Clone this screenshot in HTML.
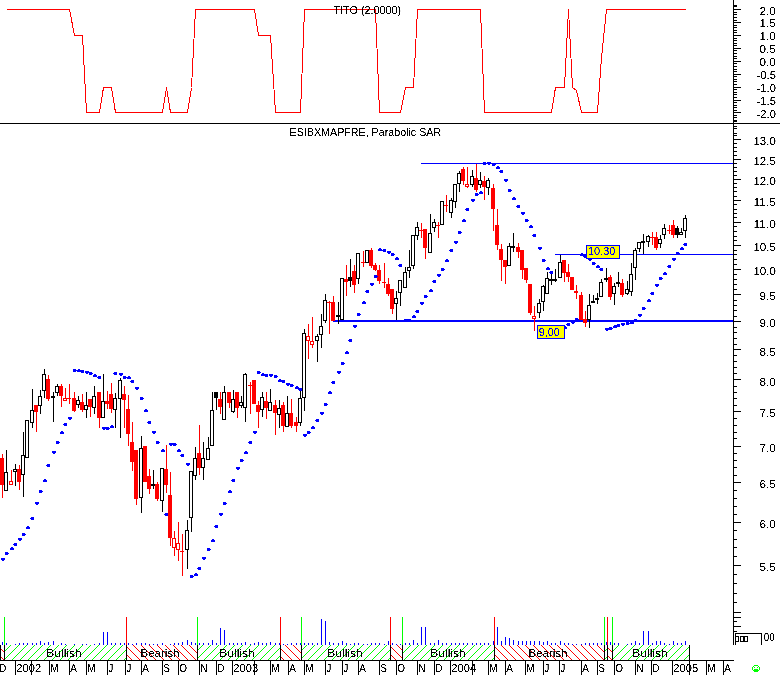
<!DOCTYPE html>
<html><head><meta charset="utf-8"><title>ESIBXMAPFRE, Parabolic SAR</title>
<style>
html,body{margin:0;padding:0;background:#fff;}
body{width:780px;height:675px;overflow:hidden;}
svg{display:block}
text{font-family:"Liberation Sans",Arial,sans-serif;fill:#000;}
.m{font-size:10px}
.b{font-size:11px}
.y{font-size:11px}
.t{font-size:10.5px}
.l{font-size:11px;fill:#0000ff}
</style></head><body>
<svg width="780" height="675" viewBox="0 0 780 675">
<defs>
<pattern id="pg" width="8" height="8" patternUnits="userSpaceOnUse"><path d="M-1 9 L9 -1 M-1 1 L1 -1 M7 9 L9 7" stroke="#00ff00" stroke-width="1" fill="none" shape-rendering="crispEdges"/></pattern>
<pattern id="pr" width="8" height="8" patternUnits="userSpaceOnUse"><path d="M-1 -1 L9 9 M-1 7 L1 9 M7 -1 L9 1" stroke="#ff0000" stroke-width="1" fill="none" shape-rendering="crispEdges"/></pattern>
<filter id="th" x="-5%" y="-20%" width="110%" height="140%" color-interpolation-filters="sRGB"><feComponentTransfer><feFuncA type="linear" slope="6" intercept="-2.2"/></feComponentTransfer></filter>
</defs>
<rect width="780" height="675" fill="#ffffff"/>
<g shape-rendering="crispEdges">
<polyline points="6.5,9.5 69.5,9.5 74.5,35.5 82.5,35.5 86.5,112.5 99.5,112.5 103.5,87.5 111.5,87.5 115.5,112.5 162.5,112.5 166.5,87.5 170.5,112.5 187.5,112.5 191.5,87.5 195.5,9.5 254.5,9.5 258.5,35.5 270.5,35.5 275.5,112.5 300.5,112.5 304.5,9.5 375.5,9.5 379.5,112.5 400.5,112.5 405.5,87.5 413.5,87.5 417.5,9.5 480.5,9.5 484.5,112.5 551.5,112.5 555.5,87.5 564.5,87.5 568.5,9.5 572.5,87.5 576.5,90.5 581.5,112.5 597.5,112.5 601.5,57.5 606.5,9.5 685.5,9.5" fill="none" stroke="#ff0000" stroke-width="1" shape-rendering="crispEdges"/>
<rect x="0" y="123" width="780" height="1" fill="#000000"/>
<rect x="733" y="0" width="1" height="645" fill="#000000"/>
<rect x="734" y="9" width="7" height="1" fill="#000000"/>
<rect x="734" y="12" width="3" height="1" fill="#000000"/>
<rect x="734" y="14" width="3" height="1" fill="#000000"/>
<rect x="734" y="17" width="3" height="1" fill="#000000"/>
<rect x="734" y="20" width="3" height="1" fill="#000000"/>
<rect x="734" y="22" width="7" height="1" fill="#000000"/>
<rect x="734" y="25" width="3" height="1" fill="#000000"/>
<rect x="734" y="27" width="3" height="1" fill="#000000"/>
<rect x="734" y="30" width="3" height="1" fill="#000000"/>
<rect x="734" y="32" width="3" height="1" fill="#000000"/>
<rect x="734" y="35" width="7" height="1" fill="#000000"/>
<rect x="734" y="38" width="3" height="1" fill="#000000"/>
<rect x="734" y="40" width="3" height="1" fill="#000000"/>
<rect x="734" y="43" width="3" height="1" fill="#000000"/>
<rect x="734" y="45" width="3" height="1" fill="#000000"/>
<rect x="734" y="48" width="7" height="1" fill="#000000"/>
<rect x="734" y="50" width="3" height="1" fill="#000000"/>
<rect x="734" y="53" width="3" height="1" fill="#000000"/>
<rect x="734" y="56" width="3" height="1" fill="#000000"/>
<rect x="734" y="58" width="3" height="1" fill="#000000"/>
<rect x="734" y="61" width="7" height="1" fill="#000000"/>
<rect x="734" y="63" width="3" height="1" fill="#000000"/>
<rect x="734" y="66" width="3" height="1" fill="#000000"/>
<rect x="734" y="69" width="3" height="1" fill="#000000"/>
<rect x="734" y="71" width="3" height="1" fill="#000000"/>
<rect x="734" y="74" width="7" height="1" fill="#000000"/>
<rect x="734" y="76" width="3" height="1" fill="#000000"/>
<rect x="734" y="79" width="3" height="1" fill="#000000"/>
<rect x="734" y="81" width="3" height="1" fill="#000000"/>
<rect x="734" y="84" width="3" height="1" fill="#000000"/>
<rect x="734" y="87" width="7" height="1" fill="#000000"/>
<rect x="734" y="89" width="3" height="1" fill="#000000"/>
<rect x="734" y="92" width="3" height="1" fill="#000000"/>
<rect x="734" y="94" width="3" height="1" fill="#000000"/>
<rect x="734" y="97" width="3" height="1" fill="#000000"/>
<rect x="734" y="100" width="7" height="1" fill="#000000"/>
<rect x="734" y="102" width="3" height="1" fill="#000000"/>
<rect x="734" y="105" width="3" height="1" fill="#000000"/>
<rect x="734" y="107" width="3" height="1" fill="#000000"/>
<rect x="734" y="110" width="3" height="1" fill="#000000"/>
<rect x="734" y="112" width="7" height="1" fill="#000000"/>
<rect x="734" y="115" width="3" height="1" fill="#000000"/>
<rect x="734" y="5" width="3" height="1" fill="#000000"/>
<rect x="734" y="6" width="3" height="1" fill="#000000"/>
<rect x="734" y="115" width="3" height="1" fill="#000000"/>
<rect x="734" y="117" width="3" height="1" fill="#000000"/>
<rect x="734" y="120" width="3" height="1" fill="#000000"/>
<rect x="734" y="121" width="3" height="1" fill="#000000"/>
<rect x="734" y="126" width="3" height="1" fill="#000000"/>
<rect x="734" y="128" width="3" height="1" fill="#000000"/>
<rect x="734" y="133" width="3" height="1" fill="#000000"/>
<rect x="734" y="135" width="3" height="1" fill="#000000"/>
<rect x="734" y="139" width="7" height="1" fill="#000000"/>
<rect x="734" y="143" width="3" height="1" fill="#000000"/>
<rect x="734" y="147" width="3" height="1" fill="#000000"/>
<rect x="734" y="151" width="3" height="1" fill="#000000"/>
<rect x="734" y="155" width="3" height="1" fill="#000000"/>
<rect x="734" y="159" width="7" height="1" fill="#000000"/>
<rect x="734" y="163" width="3" height="1" fill="#000000"/>
<rect x="734" y="167" width="3" height="1" fill="#000000"/>
<rect x="734" y="171" width="3" height="1" fill="#000000"/>
<rect x="734" y="175" width="3" height="1" fill="#000000"/>
<rect x="734" y="179" width="7" height="1" fill="#000000"/>
<rect x="734" y="183" width="3" height="1" fill="#000000"/>
<rect x="734" y="187" width="3" height="1" fill="#000000"/>
<rect x="734" y="191" width="3" height="1" fill="#000000"/>
<rect x="734" y="196" width="3" height="1" fill="#000000"/>
<rect x="734" y="200" width="7" height="1" fill="#000000"/>
<rect x="734" y="204" width="3" height="1" fill="#000000"/>
<rect x="734" y="209" width="3" height="1" fill="#000000"/>
<rect x="734" y="213" width="3" height="1" fill="#000000"/>
<rect x="734" y="217" width="3" height="1" fill="#000000"/>
<rect x="734" y="222" width="7" height="1" fill="#000000"/>
<rect x="734" y="226" width="3" height="1" fill="#000000"/>
<rect x="734" y="231" width="3" height="1" fill="#000000"/>
<rect x="734" y="236" width="3" height="1" fill="#000000"/>
<rect x="734" y="240" width="3" height="1" fill="#000000"/>
<rect x="734" y="245" width="7" height="1" fill="#000000"/>
<rect x="734" y="250" width="3" height="1" fill="#000000"/>
<rect x="734" y="254" width="3" height="1" fill="#000000"/>
<rect x="734" y="259" width="3" height="1" fill="#000000"/>
<rect x="734" y="264" width="3" height="1" fill="#000000"/>
<rect x="734" y="269" width="7" height="1" fill="#000000"/>
<rect x="734" y="274" width="3" height="1" fill="#000000"/>
<rect x="734" y="279" width="3" height="1" fill="#000000"/>
<rect x="734" y="284" width="3" height="1" fill="#000000"/>
<rect x="734" y="289" width="3" height="1" fill="#000000"/>
<rect x="734" y="294" width="7" height="1" fill="#000000"/>
<rect x="734" y="300" width="3" height="1" fill="#000000"/>
<rect x="734" y="305" width="3" height="1" fill="#000000"/>
<rect x="734" y="310" width="3" height="1" fill="#000000"/>
<rect x="734" y="316" width="3" height="1" fill="#000000"/>
<rect x="734" y="321" width="7" height="1" fill="#000000"/>
<rect x="734" y="327" width="3" height="1" fill="#000000"/>
<rect x="734" y="332" width="3" height="1" fill="#000000"/>
<rect x="734" y="338" width="3" height="1" fill="#000000"/>
<rect x="734" y="344" width="3" height="1" fill="#000000"/>
<rect x="734" y="349" width="7" height="1" fill="#000000"/>
<rect x="734" y="355" width="3" height="1" fill="#000000"/>
<rect x="734" y="361" width="3" height="1" fill="#000000"/>
<rect x="734" y="367" width="3" height="1" fill="#000000"/>
<rect x="734" y="373" width="3" height="1" fill="#000000"/>
<rect x="734" y="379" width="7" height="1" fill="#000000"/>
<rect x="734" y="386" width="3" height="1" fill="#000000"/>
<rect x="734" y="392" width="3" height="1" fill="#000000"/>
<rect x="734" y="398" width="3" height="1" fill="#000000"/>
<rect x="734" y="405" width="3" height="1" fill="#000000"/>
<rect x="734" y="411" width="7" height="1" fill="#000000"/>
<rect x="734" y="418" width="3" height="1" fill="#000000"/>
<rect x="734" y="425" width="3" height="1" fill="#000000"/>
<rect x="734" y="432" width="3" height="1" fill="#000000"/>
<rect x="734" y="438" width="3" height="1" fill="#000000"/>
<rect x="734" y="446" width="7" height="1" fill="#000000"/>
<rect x="734" y="453" width="3" height="1" fill="#000000"/>
<rect x="734" y="460" width="3" height="1" fill="#000000"/>
<rect x="734" y="467" width="3" height="1" fill="#000000"/>
<rect x="734" y="475" width="3" height="1" fill="#000000"/>
<rect x="734" y="482" width="7" height="1" fill="#000000"/>
<rect x="734" y="490" width="3" height="1" fill="#000000"/>
<rect x="734" y="498" width="3" height="1" fill="#000000"/>
<rect x="734" y="506" width="3" height="1" fill="#000000"/>
<rect x="734" y="514" width="3" height="1" fill="#000000"/>
<rect x="734" y="522" width="7" height="1" fill="#000000"/>
<rect x="734" y="530" width="3" height="1" fill="#000000"/>
<rect x="734" y="539" width="3" height="1" fill="#000000"/>
<rect x="734" y="547" width="3" height="1" fill="#000000"/>
<rect x="734" y="556" width="3" height="1" fill="#000000"/>
<rect x="734" y="565" width="7" height="1" fill="#000000"/>
<rect x="734" y="574" width="3" height="1" fill="#000000"/>
<rect x="734" y="583" width="3" height="1" fill="#000000"/>
<rect x="734" y="593" width="3" height="1" fill="#000000"/>
<rect x="734" y="602" width="3" height="1" fill="#000000"/>
<rect x="734" y="612" width="7" height="1" fill="#000000"/>
<rect x="734" y="617" width="7" height="1" fill="#000000"/>
<rect x="734" y="621" width="3" height="1" fill="#000000"/>
<rect x="734" y="626" width="7" height="1" fill="#000000"/>
<rect x="734" y="631" width="3" height="1" fill="#000000"/>
<rect x="735" y="633" width="27" height="1" fill="#000000"/>
<rect x="735" y="633" width="1" height="12" fill="#000000"/>
<rect x="761" y="633" width="1" height="12" fill="#000000"/>
<rect x="735.5" y="636.5" width="3" height="5" fill="none" stroke="#000000" stroke-width="1"/>
<rect x="740.5" y="636.5" width="3" height="5" fill="none" stroke="#000000" stroke-width="1"/>
<rect x="744.5" y="636.5" width="3" height="5" fill="none" stroke="#000000" stroke-width="1"/>
<rect x="421" y="163" width="312" height="1" fill="#0000ff"/>
<rect x="555" y="254" width="178" height="1" fill="#0000ff"/>
<rect x="333" y="320" width="400" height="2" fill="#0000ff"/>
<rect x="-2" y="454" width="1" height="44" fill="#ff0000"/>
<rect x="-4" y="458" width="4" height="27" fill="#ff0000"/>
<rect x="2" y="454" width="1" height="44" fill="#ff0000"/>
<rect x="0" y="458" width="4" height="27" fill="#ff0000"/>
<rect x="6" y="450" width="1" height="41" fill="#000000"/>
<rect x="4" y="472" width="4" height="19" fill="#000000"/>
<rect x="5" y="473" width="2" height="17" fill="#ffffff"/>
<rect x="11" y="470" width="1" height="15" fill="#ff0000"/>
<rect x="9" y="481" width="4" height="4" fill="#ff0000"/>
<rect x="10" y="482" width="2" height="2" fill="#ffffff"/>
<rect x="15" y="464" width="1" height="22" fill="#000000"/>
<rect x="13" y="469" width="4" height="3" fill="#000000"/>
<rect x="14" y="470" width="2" height="1" fill="#ffffff"/>
<rect x="19" y="465" width="1" height="25" fill="#ff0000"/>
<rect x="17" y="469" width="4" height="13" fill="#ff0000"/>
<rect x="23" y="432" width="1" height="65" fill="#000000"/>
<rect x="21" y="455" width="4" height="20" fill="#000000"/>
<rect x="22" y="456" width="2" height="18" fill="#ffffff"/>
<rect x="27" y="420" width="1" height="38" fill="#000000"/>
<rect x="25" y="420" width="4" height="38" fill="#000000"/>
<rect x="26" y="421" width="2" height="36" fill="#ffffff"/>
<rect x="32" y="389" width="1" height="39" fill="#000000"/>
<rect x="30" y="410" width="4" height="13" fill="#000000"/>
<rect x="31" y="411" width="2" height="11" fill="#ffffff"/>
<rect x="36" y="405" width="1" height="27" fill="#ff0000"/>
<rect x="34" y="405" width="4" height="7" fill="#ff0000"/>
<rect x="40" y="390" width="1" height="24" fill="#000000"/>
<rect x="38" y="396" width="4" height="10" fill="#000000"/>
<rect x="39" y="397" width="2" height="8" fill="#ffffff"/>
<rect x="44" y="369" width="1" height="29" fill="#000000"/>
<rect x="42" y="374" width="4" height="17" fill="#000000"/>
<rect x="43" y="375" width="2" height="15" fill="#ffffff"/>
<rect x="48" y="375" width="1" height="26" fill="#ff0000"/>
<rect x="46" y="379" width="4" height="20" fill="#ff0000"/>
<rect x="53" y="392" width="1" height="30" fill="#000000"/>
<rect x="51" y="396" width="4" height="2" fill="#000000"/>
<rect x="57" y="384" width="1" height="12" fill="#000000"/>
<rect x="55" y="386" width="4" height="7" fill="#000000"/>
<rect x="56" y="387" width="2" height="5" fill="#ffffff"/>
<rect x="61" y="384" width="1" height="23" fill="#ff0000"/>
<rect x="59" y="386" width="4" height="10" fill="#ff0000"/>
<rect x="65" y="388" width="1" height="13" fill="#ff0000"/>
<rect x="63" y="398" width="4" height="3" fill="#ff0000"/>
<rect x="64" y="399" width="2" height="1" fill="#ffffff"/>
<rect x="69" y="384" width="1" height="20" fill="#ff0000"/>
<rect x="67" y="398" width="4" height="1" fill="#ff0000"/>
<rect x="74" y="392" width="1" height="20" fill="#ff0000"/>
<rect x="72" y="398" width="4" height="13" fill="#ff0000"/>
<rect x="78" y="396" width="1" height="12" fill="#000000"/>
<rect x="76" y="400" width="4" height="5" fill="#000000"/>
<rect x="77" y="401" width="2" height="3" fill="#ffffff"/>
<rect x="82" y="394" width="1" height="18" fill="#ff0000"/>
<rect x="80" y="402" width="4" height="8" fill="#ff0000"/>
<rect x="86" y="392" width="1" height="26" fill="#000000"/>
<rect x="84" y="405" width="4" height="5" fill="#000000"/>
<rect x="85" y="406" width="2" height="3" fill="#ffffff"/>
<rect x="90" y="399" width="1" height="18" fill="#ff0000"/>
<rect x="88" y="399" width="4" height="8" fill="#ff0000"/>
<rect x="94" y="386" width="1" height="28" fill="#000000"/>
<rect x="92" y="396" width="4" height="12" fill="#000000"/>
<rect x="93" y="397" width="2" height="10" fill="#ffffff"/>
<rect x="99" y="392" width="1" height="36" fill="#ff0000"/>
<rect x="97" y="392" width="4" height="26" fill="#ff0000"/>
<rect x="103" y="374" width="1" height="44" fill="#000000"/>
<rect x="101" y="401" width="4" height="17" fill="#000000"/>
<rect x="102" y="402" width="2" height="15" fill="#ffffff"/>
<rect x="107" y="391" width="1" height="18" fill="#ff0000"/>
<rect x="105" y="401" width="4" height="3" fill="#ff0000"/>
<rect x="111" y="383" width="1" height="30" fill="#ff0000"/>
<rect x="109" y="394" width="4" height="15" fill="#ff0000"/>
<rect x="115" y="393" width="1" height="35" fill="#000000"/>
<rect x="113" y="398" width="4" height="12" fill="#000000"/>
<rect x="114" y="399" width="2" height="10" fill="#ffffff"/>
<rect x="120" y="378" width="1" height="60" fill="#000000"/>
<rect x="118" y="380" width="4" height="19" fill="#000000"/>
<rect x="119" y="381" width="2" height="17" fill="#ffffff"/>
<rect x="124" y="386" width="1" height="42" fill="#ff0000"/>
<rect x="122" y="394" width="4" height="6" fill="#ff0000"/>
<rect x="128" y="395" width="1" height="51" fill="#ff0000"/>
<rect x="126" y="409" width="4" height="25" fill="#ff0000"/>
<rect x="132" y="422" width="1" height="49" fill="#ff0000"/>
<rect x="130" y="442" width="4" height="20" fill="#ff0000"/>
<rect x="136" y="450" width="1" height="55" fill="#ff0000"/>
<rect x="134" y="450" width="4" height="49" fill="#ff0000"/>
<rect x="141" y="436" width="1" height="77" fill="#000000"/>
<rect x="139" y="448" width="4" height="50" fill="#000000"/>
<rect x="140" y="449" width="2" height="48" fill="#ffffff"/>
<rect x="145" y="446" width="1" height="36" fill="#ff0000"/>
<rect x="143" y="446" width="4" height="36" fill="#ff0000"/>
<rect x="149" y="469" width="1" height="25" fill="#ff0000"/>
<rect x="147" y="476" width="4" height="13" fill="#ff0000"/>
<rect x="153" y="470" width="1" height="19" fill="#000000"/>
<rect x="151" y="484" width="4" height="2" fill="#000000"/>
<rect x="157" y="482" width="1" height="19" fill="#ff0000"/>
<rect x="155" y="484" width="4" height="15" fill="#ff0000"/>
<rect x="162" y="468" width="1" height="44" fill="#000000"/>
<rect x="160" y="468" width="4" height="33" fill="#000000"/>
<rect x="161" y="469" width="2" height="31" fill="#ffffff"/>
<rect x="166" y="445" width="1" height="48" fill="#ff0000"/>
<rect x="164" y="469" width="4" height="16" fill="#ff0000"/>
<rect x="170" y="472" width="1" height="74" fill="#ff0000"/>
<rect x="168" y="495" width="4" height="43" fill="#ff0000"/>
<rect x="174" y="531" width="1" height="25" fill="#ff0000"/>
<rect x="172" y="538" width="4" height="10" fill="#ff0000"/>
<rect x="173" y="539" width="2" height="8" fill="#ffffff"/>
<rect x="178" y="522" width="1" height="39" fill="#ff0000"/>
<rect x="176" y="543" width="4" height="7" fill="#ff0000"/>
<rect x="177" y="544" width="2" height="5" fill="#ffffff"/>
<rect x="182" y="534" width="1" height="42" fill="#ff0000"/>
<rect x="180" y="551" width="4" height="1" fill="#ff0000"/>
<rect x="187" y="520" width="1" height="49" fill="#000000"/>
<rect x="185" y="530" width="4" height="20" fill="#000000"/>
<rect x="186" y="531" width="2" height="18" fill="#ffffff"/>
<rect x="191" y="471" width="1" height="61" fill="#000000"/>
<rect x="189" y="471" width="4" height="47" fill="#000000"/>
<rect x="190" y="472" width="2" height="45" fill="#ffffff"/>
<rect x="195" y="447" width="1" height="33" fill="#000000"/>
<rect x="193" y="458" width="4" height="18" fill="#000000"/>
<rect x="194" y="459" width="2" height="16" fill="#ffffff"/>
<rect x="199" y="425" width="1" height="50" fill="#ff0000"/>
<rect x="197" y="453" width="4" height="15" fill="#ff0000"/>
<rect x="203" y="442" width="1" height="38" fill="#000000"/>
<rect x="201" y="458" width="4" height="10" fill="#000000"/>
<rect x="202" y="459" width="2" height="8" fill="#ffffff"/>
<rect x="208" y="437" width="1" height="23" fill="#000000"/>
<rect x="206" y="448" width="4" height="12" fill="#000000"/>
<rect x="207" y="449" width="2" height="10" fill="#ffffff"/>
<rect x="212" y="392" width="1" height="54" fill="#000000"/>
<rect x="210" y="410" width="4" height="36" fill="#000000"/>
<rect x="211" y="411" width="2" height="34" fill="#ffffff"/>
<rect x="216" y="392" width="1" height="18" fill="#000000"/>
<rect x="214" y="392" width="4" height="6" fill="#000000"/>
<rect x="220" y="392" width="1" height="22" fill="#ff0000"/>
<rect x="218" y="399" width="4" height="8" fill="#ff0000"/>
<rect x="224" y="386" width="1" height="34" fill="#000000"/>
<rect x="222" y="392" width="4" height="28" fill="#000000"/>
<rect x="223" y="393" width="2" height="26" fill="#ffffff"/>
<rect x="229" y="392" width="1" height="16" fill="#ff0000"/>
<rect x="227" y="392" width="4" height="11" fill="#ff0000"/>
<rect x="233" y="390" width="1" height="23" fill="#000000"/>
<rect x="231" y="399" width="4" height="13" fill="#000000"/>
<rect x="232" y="400" width="2" height="11" fill="#ffffff"/>
<rect x="237" y="392" width="1" height="26" fill="#ff0000"/>
<rect x="235" y="392" width="4" height="16" fill="#ff0000"/>
<rect x="241" y="396" width="1" height="12" fill="#000000"/>
<rect x="239" y="402" width="4" height="4" fill="#000000"/>
<rect x="240" y="403" width="2" height="2" fill="#ffffff"/>
<rect x="245" y="373" width="1" height="49" fill="#000000"/>
<rect x="243" y="374" width="4" height="34" fill="#000000"/>
<rect x="244" y="375" width="2" height="32" fill="#ffffff"/>
<rect x="250" y="382" width="1" height="32" fill="#ff0000"/>
<rect x="248" y="385" width="4" height="1" fill="#ff0000"/>
<rect x="254" y="380" width="1" height="24" fill="#ff0000"/>
<rect x="252" y="380" width="4" height="24" fill="#ff0000"/>
<rect x="258" y="401" width="1" height="27" fill="#ff0000"/>
<rect x="256" y="405" width="4" height="7" fill="#ff0000"/>
<rect x="262" y="392" width="1" height="25" fill="#000000"/>
<rect x="260" y="397" width="4" height="13" fill="#000000"/>
<rect x="261" y="398" width="2" height="11" fill="#ffffff"/>
<rect x="266" y="392" width="1" height="27" fill="#ff0000"/>
<rect x="264" y="401" width="4" height="7" fill="#ff0000"/>
<rect x="270" y="389" width="1" height="22" fill="#000000"/>
<rect x="268" y="402" width="4" height="9" fill="#000000"/>
<rect x="269" y="403" width="2" height="7" fill="#ffffff"/>
<rect x="275" y="400" width="1" height="35" fill="#ff0000"/>
<rect x="273" y="405" width="4" height="8" fill="#ff0000"/>
<rect x="279" y="400" width="1" height="28" fill="#000000"/>
<rect x="277" y="408" width="4" height="7" fill="#000000"/>
<rect x="278" y="409" width="2" height="5" fill="#ffffff"/>
<rect x="283" y="402" width="1" height="30" fill="#ff0000"/>
<rect x="281" y="405" width="4" height="21" fill="#ff0000"/>
<rect x="287" y="396" width="1" height="31" fill="#000000"/>
<rect x="285" y="413" width="4" height="14" fill="#000000"/>
<rect x="286" y="414" width="2" height="12" fill="#ffffff"/>
<rect x="291" y="399" width="1" height="29" fill="#ff0000"/>
<rect x="289" y="413" width="4" height="13" fill="#ff0000"/>
<rect x="296" y="417" width="1" height="15" fill="#ff0000"/>
<rect x="294" y="422" width="4" height="4" fill="#ff0000"/>
<rect x="300" y="389" width="1" height="37" fill="#000000"/>
<rect x="298" y="398" width="4" height="25" fill="#000000"/>
<rect x="299" y="399" width="2" height="23" fill="#ffffff"/>
<rect x="304" y="329" width="1" height="82" fill="#000000"/>
<rect x="302" y="333" width="4" height="65" fill="#000000"/>
<rect x="303" y="334" width="2" height="63" fill="#ffffff"/>
<rect x="308" y="324" width="1" height="35" fill="#ff0000"/>
<rect x="306" y="336" width="4" height="5" fill="#ff0000"/>
<rect x="307" y="337" width="2" height="3" fill="#ffffff"/>
<rect x="312" y="317" width="1" height="31" fill="#ff0000"/>
<rect x="310" y="341" width="4" height="4" fill="#ff0000"/>
<rect x="311" y="342" width="2" height="2" fill="#ffffff"/>
<rect x="317" y="334" width="1" height="28" fill="#000000"/>
<rect x="315" y="336" width="4" height="5" fill="#000000"/>
<rect x="316" y="337" width="2" height="3" fill="#ffffff"/>
<rect x="321" y="314" width="1" height="34" fill="#000000"/>
<rect x="319" y="326" width="4" height="9" fill="#000000"/>
<rect x="320" y="327" width="2" height="7" fill="#ffffff"/>
<rect x="325" y="294" width="1" height="29" fill="#000000"/>
<rect x="323" y="300" width="4" height="21" fill="#000000"/>
<rect x="324" y="301" width="2" height="19" fill="#ffffff"/>
<rect x="329" y="301" width="1" height="33" fill="#ff0000"/>
<rect x="327" y="302" width="4" height="1" fill="#ff0000"/>
<rect x="333" y="296" width="1" height="25" fill="#ff0000"/>
<rect x="331" y="302" width="4" height="19" fill="#ff0000"/>
<rect x="338" y="302" width="1" height="22" fill="#000000"/>
<rect x="336" y="315" width="4" height="2" fill="#000000"/>
<rect x="342" y="278" width="1" height="42" fill="#000000"/>
<rect x="340" y="278" width="4" height="42" fill="#000000"/>
<rect x="341" y="279" width="2" height="40" fill="#ffffff"/>
<rect x="346" y="265" width="1" height="31" fill="#ff0000"/>
<rect x="344" y="279" width="4" height="3" fill="#ff0000"/>
<rect x="350" y="259" width="1" height="28" fill="#000000"/>
<rect x="348" y="277" width="4" height="4" fill="#000000"/>
<rect x="354" y="265" width="1" height="28" fill="#ff0000"/>
<rect x="352" y="271" width="4" height="14" fill="#ff0000"/>
<rect x="358" y="253" width="1" height="31" fill="#000000"/>
<rect x="356" y="253" width="4" height="26" fill="#000000"/>
<rect x="357" y="254" width="2" height="24" fill="#ffffff"/>
<rect x="363" y="251" width="1" height="16" fill="#ff0000"/>
<rect x="361" y="262" width="4" height="1" fill="#ff0000"/>
<rect x="367" y="250" width="1" height="13" fill="#000000"/>
<rect x="365" y="250" width="4" height="13" fill="#000000"/>
<rect x="366" y="251" width="2" height="11" fill="#ffffff"/>
<rect x="371" y="248" width="1" height="20" fill="#ff0000"/>
<rect x="369" y="250" width="4" height="16" fill="#ff0000"/>
<rect x="375" y="263" width="1" height="8" fill="#ff0000"/>
<rect x="373" y="265" width="4" height="5" fill="#ff0000"/>
<rect x="379" y="265" width="1" height="19" fill="#ff0000"/>
<rect x="377" y="270" width="4" height="11" fill="#ff0000"/>
<rect x="384" y="263" width="1" height="25" fill="#ff0000"/>
<rect x="382" y="282" width="4" height="1" fill="#ff0000"/>
<rect x="388" y="278" width="1" height="18" fill="#ff0000"/>
<rect x="386" y="284" width="4" height="10" fill="#ff0000"/>
<rect x="392" y="289" width="1" height="25" fill="#ff0000"/>
<rect x="390" y="289" width="4" height="20" fill="#ff0000"/>
<rect x="396" y="291" width="1" height="29" fill="#000000"/>
<rect x="394" y="298" width="4" height="6" fill="#000000"/>
<rect x="395" y="299" width="2" height="4" fill="#ffffff"/>
<rect x="400" y="280" width="1" height="26" fill="#000000"/>
<rect x="398" y="280" width="4" height="13" fill="#000000"/>
<rect x="399" y="281" width="2" height="11" fill="#ffffff"/>
<rect x="405" y="267" width="1" height="21" fill="#000000"/>
<rect x="403" y="272" width="4" height="16" fill="#000000"/>
<rect x="404" y="273" width="2" height="14" fill="#ffffff"/>
<rect x="409" y="250" width="1" height="28" fill="#000000"/>
<rect x="407" y="267" width="4" height="4" fill="#000000"/>
<rect x="408" y="268" width="2" height="2" fill="#ffffff"/>
<rect x="413" y="235" width="1" height="34" fill="#000000"/>
<rect x="411" y="235" width="4" height="31" fill="#000000"/>
<rect x="412" y="236" width="2" height="29" fill="#ffffff"/>
<rect x="417" y="222" width="1" height="18" fill="#000000"/>
<rect x="415" y="227" width="4" height="9" fill="#000000"/>
<rect x="416" y="228" width="2" height="7" fill="#ffffff"/>
<rect x="421" y="223" width="1" height="15" fill="#ff0000"/>
<rect x="419" y="230" width="4" height="1" fill="#ff0000"/>
<rect x="425" y="229" width="1" height="30" fill="#ff0000"/>
<rect x="423" y="229" width="4" height="19" fill="#ff0000"/>
<rect x="430" y="214" width="1" height="39" fill="#000000"/>
<rect x="428" y="233" width="4" height="20" fill="#000000"/>
<rect x="429" y="234" width="2" height="18" fill="#ffffff"/>
<rect x="434" y="219" width="1" height="13" fill="#000000"/>
<rect x="432" y="222" width="4" height="6" fill="#000000"/>
<rect x="433" y="223" width="2" height="4" fill="#ffffff"/>
<rect x="438" y="222" width="1" height="16" fill="#ff0000"/>
<rect x="436" y="225" width="4" height="1" fill="#ff0000"/>
<rect x="442" y="201" width="1" height="24" fill="#000000"/>
<rect x="440" y="201" width="4" height="24" fill="#000000"/>
<rect x="441" y="202" width="2" height="22" fill="#ffffff"/>
<rect x="446" y="195" width="1" height="17" fill="#ff0000"/>
<rect x="444" y="205" width="4" height="1" fill="#ff0000"/>
<rect x="451" y="198" width="1" height="20" fill="#000000"/>
<rect x="449" y="200" width="4" height="13" fill="#000000"/>
<rect x="450" y="201" width="2" height="11" fill="#ffffff"/>
<rect x="455" y="184" width="1" height="24" fill="#000000"/>
<rect x="453" y="184" width="4" height="18" fill="#000000"/>
<rect x="454" y="185" width="2" height="16" fill="#ffffff"/>
<rect x="459" y="171" width="1" height="21" fill="#000000"/>
<rect x="457" y="173" width="4" height="11" fill="#000000"/>
<rect x="458" y="174" width="2" height="9" fill="#ffffff"/>
<rect x="463" y="167" width="1" height="18" fill="#ff0000"/>
<rect x="461" y="169" width="4" height="12" fill="#ff0000"/>
<rect x="467" y="167" width="1" height="21" fill="#ff0000"/>
<rect x="465" y="184" width="4" height="3" fill="#ff0000"/>
<rect x="466" y="185" width="2" height="1" fill="#ffffff"/>
<rect x="472" y="170" width="1" height="17" fill="#000000"/>
<rect x="470" y="176" width="4" height="9" fill="#000000"/>
<rect x="471" y="177" width="2" height="7" fill="#ffffff"/>
<rect x="476" y="164" width="1" height="28" fill="#ff0000"/>
<rect x="474" y="178" width="4" height="12" fill="#ff0000"/>
<rect x="480" y="172" width="1" height="16" fill="#000000"/>
<rect x="478" y="180" width="4" height="5" fill="#000000"/>
<rect x="479" y="181" width="2" height="3" fill="#ffffff"/>
<rect x="484" y="176" width="1" height="24" fill="#ff0000"/>
<rect x="482" y="181" width="4" height="6" fill="#ff0000"/>
<rect x="488" y="178" width="1" height="17" fill="#000000"/>
<rect x="486" y="180" width="4" height="8" fill="#000000"/>
<rect x="487" y="181" width="2" height="6" fill="#ffffff"/>
<rect x="493" y="184" width="1" height="47" fill="#ff0000"/>
<rect x="491" y="188" width="4" height="21" fill="#ff0000"/>
<rect x="497" y="209" width="1" height="41" fill="#ff0000"/>
<rect x="495" y="225" width="4" height="20" fill="#ff0000"/>
<rect x="501" y="244" width="1" height="37" fill="#ff0000"/>
<rect x="499" y="249" width="4" height="11" fill="#ff0000"/>
<rect x="505" y="260" width="1" height="24" fill="#ff0000"/>
<rect x="503" y="260" width="4" height="7" fill="#ff0000"/>
<rect x="509" y="243" width="1" height="23" fill="#000000"/>
<rect x="507" y="246" width="4" height="20" fill="#000000"/>
<rect x="508" y="247" width="2" height="18" fill="#ffffff"/>
<rect x="513" y="233" width="1" height="19" fill="#000000"/>
<rect x="511" y="246" width="4" height="2" fill="#000000"/>
<rect x="518" y="243" width="1" height="15" fill="#ff0000"/>
<rect x="516" y="247" width="4" height="5" fill="#ff0000"/>
<rect x="522" y="250" width="1" height="29" fill="#ff0000"/>
<rect x="520" y="250" width="4" height="20" fill="#ff0000"/>
<rect x="526" y="268" width="1" height="15" fill="#ff0000"/>
<rect x="524" y="268" width="4" height="12" fill="#ff0000"/>
<rect x="530" y="284" width="1" height="31" fill="#ff0000"/>
<rect x="528" y="284" width="4" height="29" fill="#ff0000"/>
<rect x="534" y="306" width="1" height="25" fill="#ff0000"/>
<rect x="532" y="316" width="4" height="3" fill="#ff0000"/>
<rect x="533" y="317" width="2" height="1" fill="#ffffff"/>
<rect x="539" y="299" width="1" height="19" fill="#000000"/>
<rect x="537" y="303" width="4" height="10" fill="#000000"/>
<rect x="538" y="304" width="2" height="8" fill="#ffffff"/>
<rect x="543" y="285" width="1" height="26" fill="#000000"/>
<rect x="541" y="286" width="4" height="16" fill="#000000"/>
<rect x="542" y="287" width="2" height="14" fill="#ffffff"/>
<rect x="547" y="272" width="1" height="22" fill="#000000"/>
<rect x="545" y="278" width="4" height="16" fill="#000000"/>
<rect x="546" y="279" width="2" height="14" fill="#ffffff"/>
<rect x="551" y="273" width="1" height="12" fill="#000000"/>
<rect x="549" y="279" width="4" height="2" fill="#000000"/>
<rect x="555" y="269" width="1" height="13" fill="#000000"/>
<rect x="553" y="279" width="4" height="2" fill="#000000"/>
<rect x="560" y="255" width="1" height="23" fill="#000000"/>
<rect x="558" y="262" width="4" height="16" fill="#000000"/>
<rect x="559" y="263" width="2" height="14" fill="#ffffff"/>
<rect x="564" y="260" width="1" height="22" fill="#ff0000"/>
<rect x="562" y="260" width="4" height="13" fill="#ff0000"/>
<rect x="568" y="264" width="1" height="18" fill="#ff0000"/>
<rect x="566" y="272" width="4" height="5" fill="#ff0000"/>
<rect x="572" y="277" width="1" height="13" fill="#ff0000"/>
<rect x="570" y="277" width="4" height="13" fill="#ff0000"/>
<rect x="576" y="285" width="1" height="14" fill="#ff0000"/>
<rect x="574" y="291" width="4" height="2" fill="#ff0000"/>
<rect x="581" y="292" width="1" height="28" fill="#ff0000"/>
<rect x="579" y="295" width="4" height="25" fill="#ff0000"/>
<rect x="585" y="311" width="1" height="16" fill="#ff0000"/>
<rect x="583" y="319" width="4" height="4" fill="#ff0000"/>
<rect x="589" y="294" width="1" height="34" fill="#000000"/>
<rect x="587" y="305" width="4" height="15" fill="#000000"/>
<rect x="588" y="306" width="2" height="13" fill="#ffffff"/>
<rect x="593" y="295" width="1" height="8" fill="#000000"/>
<rect x="591" y="301" width="4" height="2" fill="#000000"/>
<rect x="597" y="293" width="1" height="11" fill="#000000"/>
<rect x="595" y="298" width="4" height="2" fill="#000000"/>
<rect x="601" y="279" width="1" height="18" fill="#000000"/>
<rect x="599" y="282" width="4" height="15" fill="#000000"/>
<rect x="600" y="283" width="2" height="13" fill="#ffffff"/>
<rect x="606" y="268" width="1" height="14" fill="#000000"/>
<rect x="604" y="278" width="4" height="2" fill="#000000"/>
<rect x="610" y="275" width="1" height="25" fill="#ff0000"/>
<rect x="608" y="277" width="4" height="20" fill="#ff0000"/>
<rect x="614" y="283" width="1" height="22" fill="#000000"/>
<rect x="612" y="286" width="4" height="8" fill="#000000"/>
<rect x="613" y="287" width="2" height="6" fill="#ffffff"/>
<rect x="618" y="272" width="1" height="15" fill="#000000"/>
<rect x="616" y="282" width="4" height="2" fill="#000000"/>
<rect x="622" y="279" width="1" height="18" fill="#ff0000"/>
<rect x="620" y="283" width="4" height="12" fill="#ff0000"/>
<rect x="627" y="281" width="1" height="14" fill="#000000"/>
<rect x="625" y="289" width="4" height="5" fill="#000000"/>
<rect x="626" y="290" width="2" height="3" fill="#ffffff"/>
<rect x="631" y="263" width="1" height="33" fill="#000000"/>
<rect x="629" y="274" width="4" height="18" fill="#000000"/>
<rect x="630" y="275" width="2" height="16" fill="#ffffff"/>
<rect x="635" y="248" width="1" height="32" fill="#000000"/>
<rect x="633" y="250" width="4" height="18" fill="#000000"/>
<rect x="634" y="251" width="2" height="16" fill="#ffffff"/>
<rect x="639" y="242" width="1" height="10" fill="#000000"/>
<rect x="637" y="242" width="4" height="7" fill="#000000"/>
<rect x="638" y="243" width="2" height="5" fill="#ffffff"/>
<rect x="643" y="234" width="1" height="20" fill="#000000"/>
<rect x="641" y="241" width="4" height="2" fill="#000000"/>
<rect x="648" y="235" width="1" height="12" fill="#000000"/>
<rect x="646" y="236" width="4" height="6" fill="#000000"/>
<rect x="647" y="237" width="2" height="4" fill="#ffffff"/>
<rect x="652" y="232" width="1" height="13" fill="#ff0000"/>
<rect x="650" y="237" width="4" height="1" fill="#ff0000"/>
<rect x="656" y="232" width="1" height="18" fill="#ff0000"/>
<rect x="654" y="237" width="4" height="11" fill="#ff0000"/>
<rect x="660" y="235" width="1" height="13" fill="#000000"/>
<rect x="658" y="239" width="4" height="5" fill="#000000"/>
<rect x="659" y="240" width="2" height="3" fill="#ffffff"/>
<rect x="664" y="224" width="1" height="15" fill="#000000"/>
<rect x="662" y="228" width="4" height="7" fill="#000000"/>
<rect x="663" y="229" width="2" height="5" fill="#ffffff"/>
<rect x="669" y="225" width="1" height="9" fill="#ff0000"/>
<rect x="667" y="230" width="4" height="1" fill="#ff0000"/>
<rect x="673" y="220" width="1" height="18" fill="#ff0000"/>
<rect x="671" y="225" width="4" height="10" fill="#ff0000"/>
<rect x="677" y="226" width="1" height="12" fill="#000000"/>
<rect x="675" y="228" width="4" height="7" fill="#000000"/>
<rect x="681" y="228" width="1" height="7" fill="#000000"/>
<rect x="679" y="232" width="4" height="3" fill="#000000"/>
<rect x="680" y="233" width="2" height="1" fill="#ffffff"/>
<rect x="685" y="215" width="1" height="23" fill="#000000"/>
<rect x="683" y="218" width="4" height="13" fill="#000000"/>
<rect x="684" y="219" width="2" height="11" fill="#ffffff"/>
<rect x="-3" y="564" width="3" height="3" fill="#0000ff"/>
<rect x="-4" y="565" width="1" height="1" fill="#0000ff"/>
<rect x="1" y="558" width="4" height="2" fill="#0000ff"/>
<rect x="2" y="560" width="2" height="1" fill="#0000ff"/>
<rect x="5" y="552" width="3" height="3" fill="#0000ff"/>
<rect x="8" y="553" width="1" height="1" fill="#0000ff"/>
<rect x="10" y="548" width="4" height="2" fill="#0000ff"/>
<rect x="11" y="547" width="2" height="1" fill="#0000ff"/>
<rect x="14" y="543" width="3" height="3" fill="#0000ff"/>
<rect x="13" y="544" width="1" height="1" fill="#0000ff"/>
<rect x="18" y="538" width="4" height="2" fill="#0000ff"/>
<rect x="19" y="540" width="2" height="1" fill="#0000ff"/>
<rect x="22" y="533" width="3" height="3" fill="#0000ff"/>
<rect x="25" y="534" width="1" height="1" fill="#0000ff"/>
<rect x="26" y="527" width="4" height="2" fill="#0000ff"/>
<rect x="27" y="526" width="2" height="1" fill="#0000ff"/>
<rect x="31" y="517" width="3" height="3" fill="#0000ff"/>
<rect x="30" y="518" width="1" height="1" fill="#0000ff"/>
<rect x="35" y="502" width="4" height="2" fill="#0000ff"/>
<rect x="36" y="504" width="2" height="1" fill="#0000ff"/>
<rect x="39" y="490" width="3" height="3" fill="#0000ff"/>
<rect x="42" y="491" width="1" height="1" fill="#0000ff"/>
<rect x="43" y="480" width="4" height="2" fill="#0000ff"/>
<rect x="44" y="479" width="2" height="1" fill="#0000ff"/>
<rect x="47" y="464" width="3" height="3" fill="#0000ff"/>
<rect x="46" y="465" width="1" height="1" fill="#0000ff"/>
<rect x="52" y="451" width="4" height="2" fill="#0000ff"/>
<rect x="53" y="453" width="2" height="1" fill="#0000ff"/>
<rect x="56" y="441" width="3" height="3" fill="#0000ff"/>
<rect x="59" y="442" width="1" height="1" fill="#0000ff"/>
<rect x="60" y="432" width="4" height="2" fill="#0000ff"/>
<rect x="61" y="431" width="2" height="1" fill="#0000ff"/>
<rect x="64" y="423" width="3" height="3" fill="#0000ff"/>
<rect x="63" y="424" width="1" height="1" fill="#0000ff"/>
<rect x="68" y="417" width="4" height="2" fill="#0000ff"/>
<rect x="69" y="419" width="2" height="1" fill="#0000ff"/>
<rect x="73" y="369" width="3" height="3" fill="#0000ff"/>
<rect x="76" y="370" width="1" height="1" fill="#0000ff"/>
<rect x="77" y="370" width="4" height="2" fill="#0000ff"/>
<rect x="78" y="369" width="2" height="1" fill="#0000ff"/>
<rect x="81" y="370" width="3" height="3" fill="#0000ff"/>
<rect x="80" y="371" width="1" height="1" fill="#0000ff"/>
<rect x="85" y="371" width="4" height="2" fill="#0000ff"/>
<rect x="86" y="373" width="2" height="1" fill="#0000ff"/>
<rect x="89" y="372" width="3" height="3" fill="#0000ff"/>
<rect x="92" y="373" width="1" height="1" fill="#0000ff"/>
<rect x="93" y="375" width="4" height="2" fill="#0000ff"/>
<rect x="94" y="374" width="2" height="1" fill="#0000ff"/>
<rect x="98" y="376" width="3" height="3" fill="#0000ff"/>
<rect x="97" y="377" width="1" height="1" fill="#0000ff"/>
<rect x="102" y="427" width="4" height="2" fill="#0000ff"/>
<rect x="103" y="429" width="2" height="1" fill="#0000ff"/>
<rect x="106" y="427" width="3" height="3" fill="#0000ff"/>
<rect x="109" y="428" width="1" height="1" fill="#0000ff"/>
<rect x="110" y="426" width="4" height="2" fill="#0000ff"/>
<rect x="111" y="425" width="2" height="1" fill="#0000ff"/>
<rect x="114" y="372" width="3" height="3" fill="#0000ff"/>
<rect x="113" y="373" width="1" height="1" fill="#0000ff"/>
<rect x="119" y="373" width="4" height="2" fill="#0000ff"/>
<rect x="120" y="375" width="2" height="1" fill="#0000ff"/>
<rect x="123" y="376" width="3" height="3" fill="#0000ff"/>
<rect x="126" y="377" width="1" height="1" fill="#0000ff"/>
<rect x="127" y="377" width="4" height="2" fill="#0000ff"/>
<rect x="128" y="376" width="2" height="1" fill="#0000ff"/>
<rect x="131" y="380" width="3" height="3" fill="#0000ff"/>
<rect x="130" y="381" width="1" height="1" fill="#0000ff"/>
<rect x="135" y="387" width="4" height="2" fill="#0000ff"/>
<rect x="136" y="389" width="2" height="1" fill="#0000ff"/>
<rect x="140" y="397" width="3" height="3" fill="#0000ff"/>
<rect x="143" y="398" width="1" height="1" fill="#0000ff"/>
<rect x="144" y="410" width="4" height="2" fill="#0000ff"/>
<rect x="145" y="409" width="2" height="1" fill="#0000ff"/>
<rect x="148" y="421" width="3" height="3" fill="#0000ff"/>
<rect x="147" y="422" width="1" height="1" fill="#0000ff"/>
<rect x="152" y="431" width="4" height="2" fill="#0000ff"/>
<rect x="153" y="433" width="2" height="1" fill="#0000ff"/>
<rect x="156" y="441" width="3" height="3" fill="#0000ff"/>
<rect x="159" y="442" width="1" height="1" fill="#0000ff"/>
<rect x="161" y="450" width="4" height="2" fill="#0000ff"/>
<rect x="162" y="449" width="2" height="1" fill="#0000ff"/>
<rect x="165" y="513" width="3" height="3" fill="#0000ff"/>
<rect x="164" y="514" width="1" height="1" fill="#0000ff"/>
<rect x="169" y="443" width="4" height="2" fill="#0000ff"/>
<rect x="170" y="445" width="2" height="1" fill="#0000ff"/>
<rect x="173" y="443" width="3" height="3" fill="#0000ff"/>
<rect x="176" y="444" width="1" height="1" fill="#0000ff"/>
<rect x="177" y="450" width="4" height="2" fill="#0000ff"/>
<rect x="178" y="449" width="2" height="1" fill="#0000ff"/>
<rect x="181" y="454" width="3" height="3" fill="#0000ff"/>
<rect x="180" y="455" width="1" height="1" fill="#0000ff"/>
<rect x="186" y="463" width="4" height="2" fill="#0000ff"/>
<rect x="187" y="465" width="2" height="1" fill="#0000ff"/>
<rect x="190" y="575" width="3" height="3" fill="#0000ff"/>
<rect x="193" y="576" width="1" height="1" fill="#0000ff"/>
<rect x="194" y="574" width="4" height="2" fill="#0000ff"/>
<rect x="195" y="573" width="2" height="1" fill="#0000ff"/>
<rect x="198" y="567" width="3" height="3" fill="#0000ff"/>
<rect x="197" y="568" width="1" height="1" fill="#0000ff"/>
<rect x="202" y="557" width="4" height="2" fill="#0000ff"/>
<rect x="203" y="559" width="2" height="1" fill="#0000ff"/>
<rect x="207" y="548" width="3" height="3" fill="#0000ff"/>
<rect x="210" y="549" width="1" height="1" fill="#0000ff"/>
<rect x="211" y="540" width="4" height="2" fill="#0000ff"/>
<rect x="212" y="539" width="2" height="1" fill="#0000ff"/>
<rect x="215" y="525" width="3" height="3" fill="#0000ff"/>
<rect x="214" y="526" width="1" height="1" fill="#0000ff"/>
<rect x="219" y="513" width="4" height="2" fill="#0000ff"/>
<rect x="220" y="515" width="2" height="1" fill="#0000ff"/>
<rect x="223" y="502" width="3" height="3" fill="#0000ff"/>
<rect x="226" y="503" width="1" height="1" fill="#0000ff"/>
<rect x="228" y="491" width="4" height="2" fill="#0000ff"/>
<rect x="229" y="490" width="2" height="1" fill="#0000ff"/>
<rect x="232" y="479" width="3" height="3" fill="#0000ff"/>
<rect x="231" y="480" width="1" height="1" fill="#0000ff"/>
<rect x="236" y="467" width="4" height="2" fill="#0000ff"/>
<rect x="237" y="469" width="2" height="1" fill="#0000ff"/>
<rect x="240" y="459" width="3" height="3" fill="#0000ff"/>
<rect x="243" y="460" width="1" height="1" fill="#0000ff"/>
<rect x="244" y="452" width="4" height="2" fill="#0000ff"/>
<rect x="245" y="451" width="2" height="1" fill="#0000ff"/>
<rect x="249" y="441" width="3" height="3" fill="#0000ff"/>
<rect x="248" y="442" width="1" height="1" fill="#0000ff"/>
<rect x="253" y="431" width="4" height="2" fill="#0000ff"/>
<rect x="254" y="433" width="2" height="1" fill="#0000ff"/>
<rect x="257" y="371" width="3" height="3" fill="#0000ff"/>
<rect x="260" y="372" width="1" height="1" fill="#0000ff"/>
<rect x="261" y="374" width="4" height="2" fill="#0000ff"/>
<rect x="262" y="373" width="2" height="1" fill="#0000ff"/>
<rect x="265" y="374" width="3" height="3" fill="#0000ff"/>
<rect x="264" y="375" width="1" height="1" fill="#0000ff"/>
<rect x="269" y="374" width="4" height="2" fill="#0000ff"/>
<rect x="270" y="376" width="2" height="1" fill="#0000ff"/>
<rect x="274" y="375" width="3" height="3" fill="#0000ff"/>
<rect x="277" y="376" width="1" height="1" fill="#0000ff"/>
<rect x="278" y="380" width="4" height="2" fill="#0000ff"/>
<rect x="279" y="379" width="2" height="1" fill="#0000ff"/>
<rect x="282" y="380" width="3" height="3" fill="#0000ff"/>
<rect x="281" y="381" width="1" height="1" fill="#0000ff"/>
<rect x="286" y="383" width="4" height="2" fill="#0000ff"/>
<rect x="287" y="385" width="2" height="1" fill="#0000ff"/>
<rect x="290" y="384" width="3" height="3" fill="#0000ff"/>
<rect x="293" y="385" width="1" height="1" fill="#0000ff"/>
<rect x="295" y="387" width="4" height="2" fill="#0000ff"/>
<rect x="296" y="386" width="2" height="1" fill="#0000ff"/>
<rect x="299" y="388" width="3" height="3" fill="#0000ff"/>
<rect x="298" y="389" width="1" height="1" fill="#0000ff"/>
<rect x="303" y="434" width="4" height="2" fill="#0000ff"/>
<rect x="304" y="436" width="2" height="1" fill="#0000ff"/>
<rect x="307" y="431" width="3" height="3" fill="#0000ff"/>
<rect x="310" y="432" width="1" height="1" fill="#0000ff"/>
<rect x="311" y="427" width="4" height="2" fill="#0000ff"/>
<rect x="312" y="426" width="2" height="1" fill="#0000ff"/>
<rect x="316" y="419" width="3" height="3" fill="#0000ff"/>
<rect x="315" y="420" width="1" height="1" fill="#0000ff"/>
<rect x="320" y="412" width="4" height="2" fill="#0000ff"/>
<rect x="321" y="414" width="2" height="1" fill="#0000ff"/>
<rect x="324" y="403" width="3" height="3" fill="#0000ff"/>
<rect x="327" y="404" width="1" height="1" fill="#0000ff"/>
<rect x="328" y="392" width="4" height="2" fill="#0000ff"/>
<rect x="329" y="391" width="2" height="1" fill="#0000ff"/>
<rect x="332" y="381" width="3" height="3" fill="#0000ff"/>
<rect x="331" y="382" width="1" height="1" fill="#0000ff"/>
<rect x="337" y="371" width="4" height="2" fill="#0000ff"/>
<rect x="338" y="373" width="2" height="1" fill="#0000ff"/>
<rect x="341" y="362" width="3" height="3" fill="#0000ff"/>
<rect x="344" y="363" width="1" height="1" fill="#0000ff"/>
<rect x="345" y="352" width="4" height="2" fill="#0000ff"/>
<rect x="346" y="351" width="2" height="1" fill="#0000ff"/>
<rect x="349" y="339" width="3" height="3" fill="#0000ff"/>
<rect x="348" y="340" width="1" height="1" fill="#0000ff"/>
<rect x="353" y="325" width="4" height="2" fill="#0000ff"/>
<rect x="354" y="327" width="2" height="1" fill="#0000ff"/>
<rect x="357" y="313" width="3" height="3" fill="#0000ff"/>
<rect x="360" y="314" width="1" height="1" fill="#0000ff"/>
<rect x="362" y="302" width="4" height="2" fill="#0000ff"/>
<rect x="363" y="301" width="2" height="1" fill="#0000ff"/>
<rect x="366" y="290" width="3" height="3" fill="#0000ff"/>
<rect x="365" y="291" width="1" height="1" fill="#0000ff"/>
<rect x="370" y="283" width="4" height="2" fill="#0000ff"/>
<rect x="371" y="285" width="2" height="1" fill="#0000ff"/>
<rect x="374" y="275" width="3" height="3" fill="#0000ff"/>
<rect x="377" y="276" width="1" height="1" fill="#0000ff"/>
<rect x="378" y="249" width="4" height="2" fill="#0000ff"/>
<rect x="379" y="248" width="2" height="1" fill="#0000ff"/>
<rect x="383" y="249" width="3" height="3" fill="#0000ff"/>
<rect x="382" y="250" width="1" height="1" fill="#0000ff"/>
<rect x="387" y="251" width="4" height="2" fill="#0000ff"/>
<rect x="388" y="253" width="2" height="1" fill="#0000ff"/>
<rect x="391" y="253" width="3" height="3" fill="#0000ff"/>
<rect x="394" y="254" width="1" height="1" fill="#0000ff"/>
<rect x="395" y="258" width="4" height="2" fill="#0000ff"/>
<rect x="396" y="257" width="2" height="1" fill="#0000ff"/>
<rect x="399" y="264" width="3" height="3" fill="#0000ff"/>
<rect x="398" y="265" width="1" height="1" fill="#0000ff"/>
<rect x="404" y="319" width="4" height="2" fill="#0000ff"/>
<rect x="405" y="321" width="2" height="1" fill="#0000ff"/>
<rect x="408" y="319" width="3" height="3" fill="#0000ff"/>
<rect x="411" y="320" width="1" height="1" fill="#0000ff"/>
<rect x="412" y="316" width="4" height="2" fill="#0000ff"/>
<rect x="413" y="315" width="2" height="1" fill="#0000ff"/>
<rect x="416" y="310" width="3" height="3" fill="#0000ff"/>
<rect x="415" y="311" width="1" height="1" fill="#0000ff"/>
<rect x="420" y="302" width="4" height="2" fill="#0000ff"/>
<rect x="421" y="304" width="2" height="1" fill="#0000ff"/>
<rect x="424" y="295" width="3" height="3" fill="#0000ff"/>
<rect x="427" y="296" width="1" height="1" fill="#0000ff"/>
<rect x="429" y="290" width="4" height="2" fill="#0000ff"/>
<rect x="430" y="289" width="2" height="1" fill="#0000ff"/>
<rect x="433" y="280" width="3" height="3" fill="#0000ff"/>
<rect x="432" y="281" width="1" height="1" fill="#0000ff"/>
<rect x="437" y="274" width="4" height="2" fill="#0000ff"/>
<rect x="438" y="276" width="2" height="1" fill="#0000ff"/>
<rect x="441" y="268" width="3" height="3" fill="#0000ff"/>
<rect x="444" y="269" width="1" height="1" fill="#0000ff"/>
<rect x="445" y="260" width="4" height="2" fill="#0000ff"/>
<rect x="446" y="259" width="2" height="1" fill="#0000ff"/>
<rect x="450" y="249" width="3" height="3" fill="#0000ff"/>
<rect x="449" y="250" width="1" height="1" fill="#0000ff"/>
<rect x="454" y="241" width="4" height="2" fill="#0000ff"/>
<rect x="455" y="243" width="2" height="1" fill="#0000ff"/>
<rect x="458" y="231" width="3" height="3" fill="#0000ff"/>
<rect x="461" y="232" width="1" height="1" fill="#0000ff"/>
<rect x="462" y="220" width="4" height="2" fill="#0000ff"/>
<rect x="463" y="219" width="2" height="1" fill="#0000ff"/>
<rect x="466" y="208" width="3" height="3" fill="#0000ff"/>
<rect x="465" y="209" width="1" height="1" fill="#0000ff"/>
<rect x="471" y="199" width="4" height="2" fill="#0000ff"/>
<rect x="472" y="201" width="2" height="1" fill="#0000ff"/>
<rect x="475" y="193" width="3" height="3" fill="#0000ff"/>
<rect x="478" y="194" width="1" height="1" fill="#0000ff"/>
<rect x="479" y="192" width="4" height="2" fill="#0000ff"/>
<rect x="480" y="191" width="2" height="1" fill="#0000ff"/>
<rect x="483" y="162" width="3" height="3" fill="#0000ff"/>
<rect x="482" y="163" width="1" height="1" fill="#0000ff"/>
<rect x="487" y="162" width="4" height="2" fill="#0000ff"/>
<rect x="488" y="164" width="2" height="1" fill="#0000ff"/>
<rect x="492" y="163" width="3" height="3" fill="#0000ff"/>
<rect x="495" y="164" width="1" height="1" fill="#0000ff"/>
<rect x="496" y="167" width="4" height="2" fill="#0000ff"/>
<rect x="497" y="166" width="2" height="1" fill="#0000ff"/>
<rect x="500" y="170" width="3" height="3" fill="#0000ff"/>
<rect x="499" y="171" width="1" height="1" fill="#0000ff"/>
<rect x="504" y="179" width="4" height="2" fill="#0000ff"/>
<rect x="505" y="181" width="2" height="1" fill="#0000ff"/>
<rect x="508" y="189" width="3" height="3" fill="#0000ff"/>
<rect x="511" y="190" width="1" height="1" fill="#0000ff"/>
<rect x="512" y="198" width="4" height="2" fill="#0000ff"/>
<rect x="513" y="197" width="2" height="1" fill="#0000ff"/>
<rect x="517" y="205" width="3" height="3" fill="#0000ff"/>
<rect x="516" y="206" width="1" height="1" fill="#0000ff"/>
<rect x="521" y="212" width="4" height="2" fill="#0000ff"/>
<rect x="522" y="214" width="2" height="1" fill="#0000ff"/>
<rect x="525" y="219" width="3" height="3" fill="#0000ff"/>
<rect x="528" y="220" width="1" height="1" fill="#0000ff"/>
<rect x="529" y="226" width="4" height="2" fill="#0000ff"/>
<rect x="530" y="225" width="2" height="1" fill="#0000ff"/>
<rect x="533" y="234" width="3" height="3" fill="#0000ff"/>
<rect x="532" y="235" width="1" height="1" fill="#0000ff"/>
<rect x="538" y="247" width="4" height="2" fill="#0000ff"/>
<rect x="539" y="249" width="2" height="1" fill="#0000ff"/>
<rect x="542" y="259" width="3" height="3" fill="#0000ff"/>
<rect x="545" y="260" width="1" height="1" fill="#0000ff"/>
<rect x="546" y="268" width="4" height="2" fill="#0000ff"/>
<rect x="547" y="267" width="2" height="1" fill="#0000ff"/>
<rect x="550" y="271" width="3" height="3" fill="#0000ff"/>
<rect x="549" y="272" width="1" height="1" fill="#0000ff"/>
<rect x="554" y="327" width="4" height="2" fill="#0000ff"/>
<rect x="555" y="329" width="2" height="1" fill="#0000ff"/>
<rect x="559" y="327" width="3" height="3" fill="#0000ff"/>
<rect x="562" y="328" width="1" height="1" fill="#0000ff"/>
<rect x="563" y="327" width="4" height="2" fill="#0000ff"/>
<rect x="564" y="326" width="2" height="1" fill="#0000ff"/>
<rect x="567" y="323" width="3" height="3" fill="#0000ff"/>
<rect x="566" y="324" width="1" height="1" fill="#0000ff"/>
<rect x="571" y="321" width="4" height="2" fill="#0000ff"/>
<rect x="572" y="323" width="2" height="1" fill="#0000ff"/>
<rect x="575" y="318" width="3" height="3" fill="#0000ff"/>
<rect x="578" y="319" width="1" height="1" fill="#0000ff"/>
<rect x="580" y="254" width="4" height="2" fill="#0000ff"/>
<rect x="581" y="253" width="2" height="1" fill="#0000ff"/>
<rect x="584" y="255" width="3" height="3" fill="#0000ff"/>
<rect x="583" y="256" width="1" height="1" fill="#0000ff"/>
<rect x="588" y="258" width="4" height="2" fill="#0000ff"/>
<rect x="589" y="260" width="2" height="1" fill="#0000ff"/>
<rect x="592" y="262" width="3" height="3" fill="#0000ff"/>
<rect x="595" y="263" width="1" height="1" fill="#0000ff"/>
<rect x="596" y="266" width="4" height="2" fill="#0000ff"/>
<rect x="597" y="265" width="2" height="1" fill="#0000ff"/>
<rect x="600" y="268" width="3" height="3" fill="#0000ff"/>
<rect x="599" y="269" width="1" height="1" fill="#0000ff"/>
<rect x="605" y="328" width="4" height="2" fill="#0000ff"/>
<rect x="606" y="330" width="2" height="1" fill="#0000ff"/>
<rect x="609" y="327" width="3" height="3" fill="#0000ff"/>
<rect x="612" y="328" width="1" height="1" fill="#0000ff"/>
<rect x="613" y="326" width="4" height="2" fill="#0000ff"/>
<rect x="614" y="325" width="2" height="1" fill="#0000ff"/>
<rect x="617" y="324" width="3" height="3" fill="#0000ff"/>
<rect x="616" y="325" width="1" height="1" fill="#0000ff"/>
<rect x="621" y="323" width="4" height="2" fill="#0000ff"/>
<rect x="622" y="325" width="2" height="1" fill="#0000ff"/>
<rect x="626" y="322" width="3" height="3" fill="#0000ff"/>
<rect x="629" y="323" width="1" height="1" fill="#0000ff"/>
<rect x="630" y="322" width="4" height="2" fill="#0000ff"/>
<rect x="631" y="321" width="2" height="1" fill="#0000ff"/>
<rect x="634" y="319" width="3" height="3" fill="#0000ff"/>
<rect x="633" y="320" width="1" height="1" fill="#0000ff"/>
<rect x="638" y="314" width="4" height="2" fill="#0000ff"/>
<rect x="639" y="316" width="2" height="1" fill="#0000ff"/>
<rect x="642" y="307" width="3" height="3" fill="#0000ff"/>
<rect x="645" y="308" width="1" height="1" fill="#0000ff"/>
<rect x="647" y="300" width="4" height="2" fill="#0000ff"/>
<rect x="648" y="299" width="2" height="1" fill="#0000ff"/>
<rect x="651" y="292" width="3" height="3" fill="#0000ff"/>
<rect x="650" y="293" width="1" height="1" fill="#0000ff"/>
<rect x="655" y="284" width="4" height="2" fill="#0000ff"/>
<rect x="656" y="286" width="2" height="1" fill="#0000ff"/>
<rect x="659" y="277" width="3" height="3" fill="#0000ff"/>
<rect x="662" y="278" width="1" height="1" fill="#0000ff"/>
<rect x="663" y="273" width="4" height="2" fill="#0000ff"/>
<rect x="664" y="272" width="2" height="1" fill="#0000ff"/>
<rect x="668" y="265" width="3" height="3" fill="#0000ff"/>
<rect x="667" y="266" width="1" height="1" fill="#0000ff"/>
<rect x="672" y="258" width="4" height="2" fill="#0000ff"/>
<rect x="673" y="260" width="2" height="1" fill="#0000ff"/>
<rect x="676" y="252" width="3" height="3" fill="#0000ff"/>
<rect x="679" y="253" width="1" height="1" fill="#0000ff"/>
<rect x="680" y="248" width="4" height="2" fill="#0000ff"/>
<rect x="681" y="247" width="2" height="1" fill="#0000ff"/>
<rect x="684" y="243" width="3" height="3" fill="#0000ff"/>
<rect x="683" y="244" width="1" height="1" fill="#0000ff"/>
<rect x="2" y="642" width="1" height="3" fill="#0000ff"/>
<rect x="6" y="643" width="1" height="2" fill="#0000ff"/>
<rect x="15" y="644" width="1" height="1" fill="#0000ff"/>
<rect x="19" y="643" width="1" height="2" fill="#0000ff"/>
<rect x="23" y="643" width="1" height="2" fill="#0000ff"/>
<rect x="27" y="643" width="1" height="2" fill="#0000ff"/>
<rect x="32" y="643" width="1" height="2" fill="#0000ff"/>
<rect x="36" y="643" width="1" height="2" fill="#0000ff"/>
<rect x="40" y="641" width="1" height="4" fill="#0000ff"/>
<rect x="44" y="643" width="1" height="2" fill="#0000ff"/>
<rect x="48" y="642" width="1" height="3" fill="#0000ff"/>
<rect x="53" y="641" width="1" height="4" fill="#0000ff"/>
<rect x="61" y="643" width="1" height="2" fill="#0000ff"/>
<rect x="65" y="644" width="1" height="1" fill="#0000ff"/>
<rect x="74" y="644" width="1" height="1" fill="#0000ff"/>
<rect x="82" y="644" width="1" height="1" fill="#0000ff"/>
<rect x="86" y="644" width="1" height="1" fill="#0000ff"/>
<rect x="94" y="644" width="1" height="1" fill="#0000ff"/>
<rect x="99" y="643" width="1" height="2" fill="#0000ff"/>
<rect x="103" y="632" width="1" height="13" fill="#0000ff"/>
<rect x="107" y="632" width="1" height="13" fill="#0000ff"/>
<rect x="111" y="643" width="1" height="2" fill="#0000ff"/>
<rect x="115" y="643" width="1" height="2" fill="#0000ff"/>
<rect x="120" y="643" width="1" height="2" fill="#0000ff"/>
<rect x="124" y="643" width="1" height="2" fill="#0000ff"/>
<rect x="128" y="643" width="1" height="2" fill="#0000ff"/>
<rect x="132" y="644" width="1" height="1" fill="#0000ff"/>
<rect x="136" y="643" width="1" height="2" fill="#0000ff"/>
<rect x="141" y="643" width="1" height="2" fill="#0000ff"/>
<rect x="145" y="643" width="1" height="2" fill="#0000ff"/>
<rect x="149" y="644" width="1" height="1" fill="#0000ff"/>
<rect x="153" y="644" width="1" height="1" fill="#0000ff"/>
<rect x="157" y="644" width="1" height="1" fill="#0000ff"/>
<rect x="162" y="643" width="1" height="2" fill="#0000ff"/>
<rect x="170" y="644" width="1" height="1" fill="#0000ff"/>
<rect x="174" y="643" width="1" height="2" fill="#0000ff"/>
<rect x="178" y="643" width="1" height="2" fill="#0000ff"/>
<rect x="182" y="642" width="1" height="3" fill="#0000ff"/>
<rect x="187" y="640" width="1" height="5" fill="#0000ff"/>
<rect x="191" y="642" width="1" height="3" fill="#0000ff"/>
<rect x="195" y="643" width="1" height="2" fill="#0000ff"/>
<rect x="199" y="643" width="1" height="2" fill="#0000ff"/>
<rect x="203" y="643" width="1" height="2" fill="#0000ff"/>
<rect x="208" y="643" width="1" height="2" fill="#0000ff"/>
<rect x="212" y="640" width="1" height="5" fill="#0000ff"/>
<rect x="216" y="643" width="1" height="2" fill="#0000ff"/>
<rect x="220" y="628" width="1" height="17" fill="#0000ff"/>
<rect x="224" y="630" width="1" height="15" fill="#0000ff"/>
<rect x="229" y="643" width="1" height="2" fill="#0000ff"/>
<rect x="233" y="643" width="1" height="2" fill="#0000ff"/>
<rect x="237" y="643" width="1" height="2" fill="#0000ff"/>
<rect x="241" y="643" width="1" height="2" fill="#0000ff"/>
<rect x="245" y="642" width="1" height="3" fill="#0000ff"/>
<rect x="250" y="644" width="1" height="1" fill="#0000ff"/>
<rect x="254" y="643" width="1" height="2" fill="#0000ff"/>
<rect x="258" y="642" width="1" height="3" fill="#0000ff"/>
<rect x="262" y="643" width="1" height="2" fill="#0000ff"/>
<rect x="266" y="643" width="1" height="2" fill="#0000ff"/>
<rect x="270" y="642" width="1" height="3" fill="#0000ff"/>
<rect x="275" y="643" width="1" height="2" fill="#0000ff"/>
<rect x="279" y="643" width="1" height="2" fill="#0000ff"/>
<rect x="283" y="644" width="1" height="1" fill="#0000ff"/>
<rect x="287" y="644" width="1" height="1" fill="#0000ff"/>
<rect x="291" y="643" width="1" height="2" fill="#0000ff"/>
<rect x="296" y="643" width="1" height="2" fill="#0000ff"/>
<rect x="300" y="643" width="1" height="2" fill="#0000ff"/>
<rect x="304" y="643" width="1" height="2" fill="#0000ff"/>
<rect x="308" y="643" width="1" height="2" fill="#0000ff"/>
<rect x="312" y="643" width="1" height="2" fill="#0000ff"/>
<rect x="317" y="643" width="1" height="2" fill="#0000ff"/>
<rect x="321" y="619" width="1" height="26" fill="#0000ff"/>
<rect x="325" y="621" width="1" height="24" fill="#0000ff"/>
<rect x="329" y="642" width="1" height="3" fill="#0000ff"/>
<rect x="333" y="643" width="1" height="2" fill="#0000ff"/>
<rect x="338" y="643" width="1" height="2" fill="#0000ff"/>
<rect x="342" y="641" width="1" height="4" fill="#0000ff"/>
<rect x="346" y="643" width="1" height="2" fill="#0000ff"/>
<rect x="350" y="644" width="1" height="1" fill="#0000ff"/>
<rect x="354" y="643" width="1" height="2" fill="#0000ff"/>
<rect x="358" y="643" width="1" height="2" fill="#0000ff"/>
<rect x="363" y="644" width="1" height="1" fill="#0000ff"/>
<rect x="367" y="644" width="1" height="1" fill="#0000ff"/>
<rect x="371" y="643" width="1" height="2" fill="#0000ff"/>
<rect x="375" y="643" width="1" height="2" fill="#0000ff"/>
<rect x="379" y="643" width="1" height="2" fill="#0000ff"/>
<rect x="384" y="644" width="1" height="1" fill="#0000ff"/>
<rect x="388" y="641" width="1" height="4" fill="#0000ff"/>
<rect x="392" y="643" width="1" height="2" fill="#0000ff"/>
<rect x="396" y="644" width="1" height="1" fill="#0000ff"/>
<rect x="400" y="644" width="1" height="1" fill="#0000ff"/>
<rect x="405" y="643" width="1" height="2" fill="#0000ff"/>
<rect x="409" y="643" width="1" height="2" fill="#0000ff"/>
<rect x="413" y="640" width="1" height="5" fill="#0000ff"/>
<rect x="417" y="643" width="1" height="2" fill="#0000ff"/>
<rect x="421" y="627" width="1" height="18" fill="#0000ff"/>
<rect x="425" y="627" width="1" height="18" fill="#0000ff"/>
<rect x="430" y="643" width="1" height="2" fill="#0000ff"/>
<rect x="434" y="643" width="1" height="2" fill="#0000ff"/>
<rect x="438" y="640" width="1" height="5" fill="#0000ff"/>
<rect x="442" y="643" width="1" height="2" fill="#0000ff"/>
<rect x="446" y="643" width="1" height="2" fill="#0000ff"/>
<rect x="451" y="643" width="1" height="2" fill="#0000ff"/>
<rect x="455" y="643" width="1" height="2" fill="#0000ff"/>
<rect x="459" y="643" width="1" height="2" fill="#0000ff"/>
<rect x="463" y="643" width="1" height="2" fill="#0000ff"/>
<rect x="467" y="643" width="1" height="2" fill="#0000ff"/>
<rect x="472" y="643" width="1" height="2" fill="#0000ff"/>
<rect x="476" y="643" width="1" height="2" fill="#0000ff"/>
<rect x="480" y="643" width="1" height="2" fill="#0000ff"/>
<rect x="484" y="643" width="1" height="2" fill="#0000ff"/>
<rect x="488" y="643" width="1" height="2" fill="#0000ff"/>
<rect x="493" y="641" width="1" height="4" fill="#0000ff"/>
<rect x="497" y="627" width="1" height="18" fill="#0000ff"/>
<rect x="501" y="641" width="1" height="4" fill="#0000ff"/>
<rect x="505" y="637" width="1" height="8" fill="#0000ff"/>
<rect x="509" y="638" width="1" height="7" fill="#0000ff"/>
<rect x="513" y="640" width="1" height="5" fill="#0000ff"/>
<rect x="518" y="641" width="1" height="4" fill="#0000ff"/>
<rect x="522" y="641" width="1" height="4" fill="#0000ff"/>
<rect x="526" y="641" width="1" height="4" fill="#0000ff"/>
<rect x="530" y="641" width="1" height="4" fill="#0000ff"/>
<rect x="534" y="641" width="1" height="4" fill="#0000ff"/>
<rect x="539" y="641" width="1" height="4" fill="#0000ff"/>
<rect x="543" y="642" width="1" height="3" fill="#0000ff"/>
<rect x="547" y="641" width="1" height="4" fill="#0000ff"/>
<rect x="551" y="643" width="1" height="2" fill="#0000ff"/>
<rect x="555" y="643" width="1" height="2" fill="#0000ff"/>
<rect x="560" y="641" width="1" height="4" fill="#0000ff"/>
<rect x="564" y="643" width="1" height="2" fill="#0000ff"/>
<rect x="568" y="643" width="1" height="2" fill="#0000ff"/>
<rect x="572" y="644" width="1" height="1" fill="#0000ff"/>
<rect x="576" y="644" width="1" height="1" fill="#0000ff"/>
<rect x="581" y="644" width="1" height="1" fill="#0000ff"/>
<rect x="585" y="643" width="1" height="2" fill="#0000ff"/>
<rect x="589" y="643" width="1" height="2" fill="#0000ff"/>
<rect x="593" y="643" width="1" height="2" fill="#0000ff"/>
<rect x="597" y="643" width="1" height="2" fill="#0000ff"/>
<rect x="601" y="643" width="1" height="2" fill="#0000ff"/>
<rect x="606" y="642" width="1" height="3" fill="#0000ff"/>
<rect x="610" y="642" width="1" height="3" fill="#0000ff"/>
<rect x="614" y="643" width="1" height="2" fill="#0000ff"/>
<rect x="618" y="643" width="1" height="2" fill="#0000ff"/>
<rect x="627" y="644" width="1" height="1" fill="#0000ff"/>
<rect x="631" y="643" width="1" height="2" fill="#0000ff"/>
<rect x="635" y="641" width="1" height="4" fill="#0000ff"/>
<rect x="639" y="643" width="1" height="2" fill="#0000ff"/>
<rect x="643" y="631" width="1" height="14" fill="#0000ff"/>
<rect x="648" y="631" width="1" height="14" fill="#0000ff"/>
<rect x="652" y="643" width="1" height="2" fill="#0000ff"/>
<rect x="656" y="641" width="1" height="4" fill="#0000ff"/>
<rect x="660" y="641" width="1" height="4" fill="#0000ff"/>
<rect x="664" y="643" width="1" height="2" fill="#0000ff"/>
<rect x="669" y="644" width="1" height="1" fill="#0000ff"/>
<rect x="673" y="641" width="1" height="4" fill="#0000ff"/>
<rect x="677" y="643" width="1" height="2" fill="#0000ff"/>
<rect x="681" y="643" width="1" height="2" fill="#0000ff"/>
<rect x="685" y="641" width="1" height="4" fill="#0000ff"/>
<rect x="4" y="617" width="1" height="28" fill="#00ff00"/>
<rect x="4" y="645" width="1" height="15" fill="#000000"/>
<rect x="126" y="617" width="1" height="28" fill="#ff0000"/>
<rect x="126" y="645" width="1" height="15" fill="#000000"/>
<rect x="197" y="617" width="1" height="28" fill="#00ff00"/>
<rect x="197" y="645" width="1" height="15" fill="#000000"/>
<rect x="280" y="617" width="1" height="28" fill="#ff0000"/>
<rect x="280" y="645" width="1" height="15" fill="#000000"/>
<rect x="301" y="617" width="1" height="28" fill="#00ff00"/>
<rect x="301" y="645" width="1" height="15" fill="#000000"/>
<rect x="390" y="617" width="1" height="28" fill="#ff0000"/>
<rect x="390" y="645" width="1" height="15" fill="#000000"/>
<rect x="402" y="617" width="1" height="28" fill="#00ff00"/>
<rect x="402" y="645" width="1" height="15" fill="#000000"/>
<rect x="494" y="617" width="1" height="28" fill="#ff0000"/>
<rect x="494" y="645" width="1" height="15" fill="#000000"/>
<rect x="604" y="617" width="1" height="28" fill="#00ff00"/>
<rect x="604" y="645" width="1" height="15" fill="#000000"/>
<rect x="607" y="617" width="1" height="28" fill="#ff0000"/>
<rect x="607" y="645" width="1" height="15" fill="#000000"/>
<rect x="612" y="617" width="1" height="28" fill="#00ff00"/>
<rect x="612" y="645" width="1" height="15" fill="#000000"/>
<rect x="0" y="645" width="1" height="15" fill="#000000"/>
<rect x="689" y="645" width="1" height="30" fill="#000000"/>
<rect x="1" y="645" width="3" height="15" fill="url(#pr)"/>
<rect x="5" y="645" width="121" height="15" fill="url(#pg)"/>
<rect x="127" y="645" width="70" height="15" fill="url(#pr)"/>
<rect x="198" y="645" width="82" height="15" fill="url(#pg)"/>
<rect x="281" y="645" width="20" height="15" fill="url(#pr)"/>
<rect x="302" y="645" width="88" height="15" fill="url(#pg)"/>
<rect x="391" y="645" width="11" height="15" fill="url(#pr)"/>
<rect x="403" y="645" width="91" height="15" fill="url(#pg)"/>
<rect x="495" y="645" width="109" height="15" fill="url(#pr)"/>
<rect x="605" y="645" width="2" height="15" fill="url(#pg)"/>
<rect x="608" y="645" width="4" height="15" fill="url(#pr)"/>
<rect x="613" y="645" width="76" height="15" fill="url(#pg)"/>
<rect x="0" y="660" width="734" height="1" fill="#000000"/>
<rect x="15" y="661" width="1" height="14" fill="#000000"/>
<rect x="31" y="661" width="1" height="14" fill="#000000"/>
<rect x="49" y="661" width="1" height="14" fill="#000000"/>
<rect x="69" y="661" width="1" height="14" fill="#000000"/>
<rect x="86" y="661" width="1" height="14" fill="#000000"/>
<rect x="107" y="661" width="1" height="14" fill="#000000"/>
<rect x="125" y="661" width="1" height="14" fill="#000000"/>
<rect x="141" y="661" width="1" height="14" fill="#000000"/>
<rect x="162" y="661" width="1" height="14" fill="#000000"/>
<rect x="178" y="661" width="1" height="14" fill="#000000"/>
<rect x="199" y="661" width="1" height="14" fill="#000000"/>
<rect x="216" y="661" width="1" height="14" fill="#000000"/>
<rect x="232" y="661" width="1" height="14" fill="#000000"/>
<rect x="254" y="661" width="1" height="14" fill="#000000"/>
<rect x="270" y="661" width="1" height="14" fill="#000000"/>
<rect x="288" y="661" width="1" height="14" fill="#000000"/>
<rect x="304" y="661" width="1" height="14" fill="#000000"/>
<rect x="325" y="661" width="1" height="14" fill="#000000"/>
<rect x="342" y="661" width="1" height="14" fill="#000000"/>
<rect x="358" y="661" width="1" height="14" fill="#000000"/>
<rect x="379" y="661" width="1" height="14" fill="#000000"/>
<rect x="396" y="661" width="1" height="14" fill="#000000"/>
<rect x="417" y="661" width="1" height="14" fill="#000000"/>
<rect x="434" y="661" width="1" height="14" fill="#000000"/>
<rect x="450" y="661" width="1" height="14" fill="#000000"/>
<rect x="472" y="661" width="1" height="14" fill="#000000"/>
<rect x="488" y="661" width="1" height="14" fill="#000000"/>
<rect x="505" y="661" width="1" height="14" fill="#000000"/>
<rect x="525" y="661" width="1" height="14" fill="#000000"/>
<rect x="543" y="661" width="1" height="14" fill="#000000"/>
<rect x="559" y="661" width="1" height="14" fill="#000000"/>
<rect x="581" y="661" width="1" height="14" fill="#000000"/>
<rect x="597" y="661" width="1" height="14" fill="#000000"/>
<rect x="614" y="661" width="1" height="14" fill="#000000"/>
<rect x="635" y="661" width="1" height="14" fill="#000000"/>
<rect x="651" y="661" width="1" height="14" fill="#000000"/>
<rect x="672" y="661" width="1" height="14" fill="#000000"/>
<rect x="706" y="661" width="1" height="14" fill="#000000"/>
<rect x="723" y="661" width="1" height="14" fill="#000000"/>
</g>
<g filter="url(#th)">
<text x="-1" y="672" class="m">D</text>
<text x="16.3" y="672.2" class="m" textLength="24.8" lengthAdjust="spacingAndGlyphs">2002</text>
<text x="50.3" y="672.2" class="m">M</text>
<text x="70.3" y="672.2" class="m">A</text>
<text x="87.3" y="672.2" class="m">M</text>
<text x="108.3" y="672.2" class="m">J</text>
<text x="126.3" y="672.2" class="m">J</text>
<text x="142.3" y="672.2" class="m">A</text>
<text x="163.3" y="672.2" class="m">S</text>
<text x="179.3" y="672.2" class="m">O</text>
<text x="200.3" y="672.2" class="m">N</text>
<text x="217.3" y="672.2" class="m">D</text>
<text x="233.3" y="672.2" class="m" textLength="24.8" lengthAdjust="spacingAndGlyphs">2003</text>
<text x="271.3" y="672.2" class="m">M</text>
<text x="289.3" y="672.2" class="m">A</text>
<text x="305.3" y="672.2" class="m">M</text>
<text x="326.3" y="672.2" class="m">J</text>
<text x="343.3" y="672.2" class="m">J</text>
<text x="359.3" y="672.2" class="m">A</text>
<text x="380.3" y="672.2" class="m">S</text>
<text x="397.3" y="672.2" class="m">O</text>
<text x="418.3" y="672.2" class="m">N</text>
<text x="435.3" y="672.2" class="m">D</text>
<text x="451.3" y="672.2" class="m" textLength="24.8" lengthAdjust="spacingAndGlyphs">2004</text>
<text x="489.3" y="672.2" class="m">M</text>
<text x="506.3" y="672.2" class="m">A</text>
<text x="526.3" y="672.2" class="m">M</text>
<text x="544.3" y="672.2" class="m">J</text>
<text x="560.3" y="672.2" class="m">J</text>
<text x="582.3" y="672.2" class="m">A</text>
<text x="598.3" y="672.2" class="m">S</text>
<text x="615.3" y="672.2" class="m">O</text>
<text x="636.3" y="672.2" class="m">N</text>
<text x="652.3" y="672.2" class="m">D</text>
<text x="673.3" y="672.2" class="m" textLength="24.8" lengthAdjust="spacingAndGlyphs">2005</text>
<text x="707.3" y="672.2" class="m">M</text>
<text x="724.3" y="672.2" class="m">A</text>
<text x="46.35" y="657" class="b" textLength="35.3" lengthAdjust="spacingAndGlyphs">Bullish</text>
<text x="140.5" y="657" class="b" textLength="39" lengthAdjust="spacingAndGlyphs">Bearish</text>
<text x="219.35" y="657" class="b" textLength="35.3" lengthAdjust="spacingAndGlyphs">Bullish</text>
<text x="327.35" y="657" class="b" textLength="35.3" lengthAdjust="spacingAndGlyphs">Bullish</text>
<text x="430.35" y="657" class="b" textLength="35.3" lengthAdjust="spacingAndGlyphs">Bullish</text>
<text x="528.5" y="657" class="b" textLength="39" lengthAdjust="spacingAndGlyphs">Bearish</text>
<text x="632.35" y="657" class="b" textLength="35.3" lengthAdjust="spacingAndGlyphs">Bullish</text>
<text x="759.6" y="14.5" class="y" textLength="16.3" lengthAdjust="spacingAndGlyphs">2.0</text>
<text x="759.6" y="27.375" class="y" textLength="16.3" lengthAdjust="spacingAndGlyphs">1.5</text>
<text x="759.6" y="40.25" class="y" textLength="16.3" lengthAdjust="spacingAndGlyphs">1.0</text>
<text x="759.6" y="53.125" class="y" textLength="16.3" lengthAdjust="spacingAndGlyphs">0.5</text>
<text x="759.6" y="66" class="y" textLength="16.3" lengthAdjust="spacingAndGlyphs">0.0</text>
<text x="756.6" y="78.875" class="y" textLength="19.3" lengthAdjust="spacingAndGlyphs">-0.5</text>
<text x="756.6" y="91.75" class="y" textLength="19.3" lengthAdjust="spacingAndGlyphs">-1.0</text>
<text x="756.6" y="104.625" class="y" textLength="19.3" lengthAdjust="spacingAndGlyphs">-1.5</text>
<text x="756.6" y="117.5" class="y" textLength="19.3" lengthAdjust="spacingAndGlyphs">-2.0</text>
<text x="753.4" y="145.2" class="y" textLength="22.5" lengthAdjust="spacingAndGlyphs">13.0</text>
<text x="753.4" y="164.614" class="y" textLength="22.5" lengthAdjust="spacingAndGlyphs">12.5</text>
<text x="753.4" y="184.821" class="y" textLength="22.5" lengthAdjust="spacingAndGlyphs">12.0</text>
<text x="753.4" y="205.888" class="y" textLength="22.5" lengthAdjust="spacingAndGlyphs">11.5</text>
<text x="753.4" y="227.892" class="y" textLength="22.5" lengthAdjust="spacingAndGlyphs">11.0</text>
<text x="753.4" y="250.919" class="y" textLength="22.5" lengthAdjust="spacingAndGlyphs">10.5</text>
<text x="753.4" y="275.07" class="y" textLength="22.5" lengthAdjust="spacingAndGlyphs">10.0</text>
<text x="759.6" y="300.46" class="y" textLength="16.3" lengthAdjust="spacingAndGlyphs">9.5</text>
<text x="759.6" y="327.224" class="y" textLength="16.3" lengthAdjust="spacingAndGlyphs">9.0</text>
<text x="759.6" y="355.517" class="y" textLength="16.3" lengthAdjust="spacingAndGlyphs">8.5</text>
<text x="759.6" y="385.526" class="y" textLength="16.3" lengthAdjust="spacingAndGlyphs">8.0</text>
<text x="759.6" y="417.473" class="y" textLength="16.3" lengthAdjust="spacingAndGlyphs">7.5</text>
<text x="759.6" y="451.624" class="y" textLength="16.3" lengthAdjust="spacingAndGlyphs">7.0</text>
<text x="759.6" y="488.308" class="y" textLength="16.3" lengthAdjust="spacingAndGlyphs">6.5</text>
<text x="759.6" y="527.929" class="y" textLength="16.3" lengthAdjust="spacingAndGlyphs">6.0</text>
<text x="759.6" y="571" class="y" textLength="16.3" lengthAdjust="spacingAndGlyphs">5.5</text>
<text x="763.8" y="641" class="y" textLength="11" lengthAdjust="spacingAndGlyphs">00</text>
<text x="333.5" y="14" class="t" textLength="67.7" lengthAdjust="spacingAndGlyphs">TITO (2.0000)</text>
<text x="289.6" y="136" class="t" textLength="151.6" lengthAdjust="spacingAndGlyphs">ESIBXMAPFRE, Parabolic SAR</text>
</g>
<g shape-rendering="crispEdges">
<rect x="586.5" y="245.5" width="33" height="13" fill="#ffff00" stroke="#0000ff" stroke-width="1"/>
</g>
<g filter="url(#th)"><text x="588" y="255.3" class="l" textLength="27.3" lengthAdjust="spacingAndGlyphs">10,30</text></g>
<g shape-rendering="crispEdges">
<rect x="537.5" y="325.5" width="27" height="13" fill="#ffff00" stroke="#0000ff" stroke-width="1"/>
</g>
<g filter="url(#th)"><text x="538.7" y="335.7" class="l" textLength="21" lengthAdjust="spacingAndGlyphs">9,00</text></g>
<g shape-rendering="crispEdges"><rect x="754" y="665" width="1" height="1" fill="#00ff00"/><rect x="755" y="665" width="1" height="1" fill="#00ff00"/><rect x="756" y="665" width="1" height="1" fill="#00ff00"/><rect x="757" y="665" width="1" height="1" fill="#00ff00"/><rect x="753" y="666" width="1" height="1" fill="#00ff00"/><rect x="758" y="666" width="1" height="1" fill="#00ff00"/><rect x="752" y="667" width="1" height="1" fill="#00ff00"/><rect x="754" y="667" width="1" height="1" fill="#00ff00"/><rect x="757" y="667" width="1" height="1" fill="#00ff00"/><rect x="759" y="667" width="1" height="1" fill="#00ff00"/><rect x="752" y="668" width="1" height="1" fill="#00ff00"/><rect x="759" y="668" width="1" height="1" fill="#00ff00"/><rect x="752" y="669" width="1" height="1" fill="#00ff00"/><rect x="754" y="669" width="1" height="1" fill="#00ff00"/><rect x="755" y="669" width="1" height="1" fill="#00ff00"/><rect x="756" y="669" width="1" height="1" fill="#00ff00"/><rect x="757" y="669" width="1" height="1" fill="#00ff00"/><rect x="759" y="669" width="1" height="1" fill="#00ff00"/><rect x="753" y="670" width="1" height="1" fill="#00ff00"/><rect x="754" y="670" width="1" height="1" fill="#00ff00"/><rect x="755" y="670" width="1" height="1" fill="#00ff00"/><rect x="756" y="670" width="1" height="1" fill="#00ff00"/><rect x="757" y="670" width="1" height="1" fill="#00ff00"/><rect x="758" y="670" width="1" height="1" fill="#00ff00"/><rect x="754" y="671" width="1" height="1" fill="#00ff00"/><rect x="755" y="671" width="1" height="1" fill="#00ff00"/><rect x="756" y="671" width="1" height="1" fill="#00ff00"/><rect x="757" y="671" width="1" height="1" fill="#00ff00"/></g>
</svg>
</body></html>
